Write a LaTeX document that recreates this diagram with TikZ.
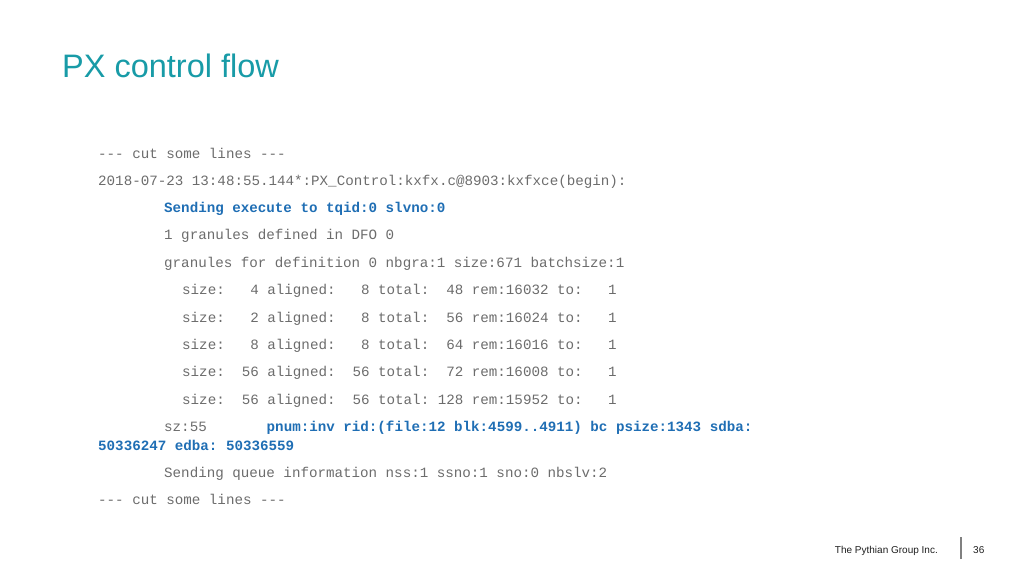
\documentclass[tikz,border=0pt]{standalone}
\usepackage{fontspec}
\setmainfont{Liberation Sans}
\newfontfamily\codefont{Liberation Mono}
\usepackage{tikz}
\usetikzlibrary{positioning}
\frenchspacing
\definecolor{titleteal}{RGB}{24,155,167}
\definecolor{logblue}{RGB}{31,110,180}
\definecolor{loggray}{RGB}{108,108,108}
\definecolor{footgray}{RGB}{30,30,30}
\definecolor{bargray}{RGB}{128,128,128}

\begin{document}
\begin{tikzpicture}[
            x=1pt, y=1pt,
            code/.style={anchor=base west, inner sep=0pt, text=loggray,
                font=\codefont\fontsize{14.2}{16}\selectfont},
            hot/.style={code, text=logblue,
                font=\codefont\bfseries\fontsize{14.2}{16}\selectfont},
            foot/.style={inner sep=0pt, text=footgray,
                font=\fontsize{10}{12}\selectfont}]
            \useasboundingbox (0,0) rectangle (1024,576);

            % title
            \node [anchor=base west, inner sep=0pt, text=titleteal,
                   font=\fontsize{32.5}{38}\selectfont] (title) at (62,498) {PX control flow};

            % log lines
            \node [code] (cut1)  at (98,417)  {-{}-{}- cut some lines -{}-{}-};
            \node [code] (stamp) at (98,390)  {2018-07-23 13:48:55.144*:PX\_Control:kxfx.c@8903:kxfxce(begin):};
            \node [hot]  (send)  at (164,363) {Sending execute to tqid:0 slvno:0};
            \node [code] (dfo)   at (164,336) {1 granules defined in DFO 0};
            \node [code] (gran)  at (164,308) {granules for definition 0 nbgra:1 size:671 batchsize:1};
            \node [code] (sz1)   at (182,281) {size:~~~4 aligned:~~~8 total:~~48 rem:16032 to:~~~1};
            \node [code] (sz2)   at (182,254) {size:~~~2 aligned:~~~8 total:~~56 rem:16024 to:~~~1};
            \node [code] (sz3)   at (182,227) {size:~~~8 aligned:~~~8 total:~~64 rem:16016 to:~~~1};
            \node [code] (sz4)   at (182,200) {size:~~56 aligned:~~56 total:~~72 rem:16008 to:~~~1};
            \node [code] (sz5)   at (182,172) {size:~~56 aligned:~~56 total:~128 rem:15952 to:~~~1};
            \node [code] (szl)   at (164,145) {sz:55};
            \node [hot]  (pnum)  [right=59.5pt of szl.base east, anchor=base west]
                  {pnum:inv rid:(file:12 blk:4599..4911) bc psize:1343 sdba:};
            \node [hot]  (edba)  at (98,126)  {50336247 edba: 50336559};
            \node [code] (queue) at (164,99)  {Sending queue information nss:1 ssno:1 sno:0 nbslv:2};
            \node [code] (cut2)  at (98,72)   {-{}-{}- cut some lines -{}-{}-};

            % footer
            \node [foot, anchor=base east] (firm) at (938,23) {The Pythian Group Inc.};
            \node [foot, anchor=base west] (page) at (973,23) {36};
            \draw [bargray, line width=1.6pt] (961,17) -- (961,39);
        \end{tikzpicture}
\end{document}
